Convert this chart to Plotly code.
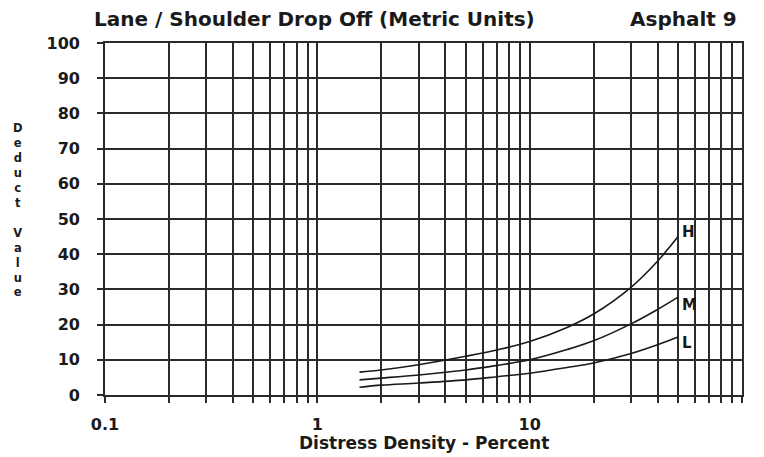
"""Deduct value curves: lane / shoulder drop off (asphalt 9)."""
import math

import plotly.graph_objects as go

DENSITY = [1.58, 2, 3, 5, 7, 10, 15, 20, 30, 40, 50]
HIGH = [6.5, 7.1, 8.6, 11.0, 12.8, 15.2, 19.2, 23.0, 30.6, 38.0, 45.0]
MEDIUM = [4.3, 4.8, 5.7, 7.1, 8.4, 10.0, 12.9, 15.4, 20.2, 24.3, 27.8]
LOW = [2.2, 2.8, 3.4, 4.3, 5.2, 6.2, 7.8, 9.1, 11.8, 14.3, 16.5]
SEVERITY = ["H", "M", "L"]

X_TICKS = [0.1, 1, 10, 100]
X_TICK_TEXT = ["0.1", "1", "10", "100"]
X_MINOR = [m * d for d in (0.1, 1, 10) for m in range(2, 10)]

FONT = "DejaVu Sans, Verdana, sans-serif"
INK = "#1a1a1a"
GRID = "#2b2b2b"

# label offsets off the curve ends (px): H sits above, M and L below
LABEL_SHIFT = {"H": 5, "M": -8, "L": -6}

fig = go.Figure()
for name, ys in zip(SEVERITY, (HIGH, MEDIUM, LOW)):
    fig.add_scatter(
        x=DENSITY, y=ys, mode="lines", name=name,
        line=dict(color=INK, width=1.6, shape="spline", smoothing=1.0),
        showlegend=False,
    )
    # annotation x on a log axis is given in log10 units
    fig.add_annotation(
        x=math.log10(DENSITY[-1]), y=ys[-1], xref="x", yref="y",
        text=f"<b>{name}</b>", showarrow=False, xanchor="left", xshift=2,
        yshift=LABEL_SHIFT[name], font=dict(family=FONT, size=15, color=INK),
    )

fig.update_xaxes(
    type="log", range=[-1, 2],
    tickvals=X_TICKS, ticktext=X_TICK_TEXT,
    showgrid=True, gridcolor=GRID, gridwidth=1.7,
    ticks="outside", ticklen=6, tickcolor=GRID, tickwidth=1.7,
    minor=dict(tickvals=X_MINOR, showgrid=True, gridcolor=GRID, gridwidth=1.7,
               ticks="outside", ticklen=6, tickcolor=GRID, tickwidth=1.7),
    showline=True, linecolor=GRID, linewidth=1.7, mirror=True,
    zeroline=False,
    tickfont=dict(family=FONT, size=16, color=INK, weight="bold"),
    ticklabelstandoff=8,
)
fig.update_yaxes(
    range=[0, 100], dtick=10,
    showgrid=True, gridcolor=GRID, gridwidth=1.7,
    ticks="outside", ticklen=6, tickcolor=GRID, tickwidth=1.7,
    showline=True, linecolor=GRID, linewidth=1.7, mirror=True,
    zeroline=False,
    tickfont=dict(family=FONT, size=16, color=INK, weight="bold"),
    ticklabelstandoff=14,
)

# stacked vertical y-axis title
fig.add_annotation(
    x=0, y=0.5, xref="paper", yref="paper", xanchor="center", yanchor="middle",
    xshift=-87, yshift=9,
    text="<br>".join("<b>" + c + "</b>" if c != " " else "" for c in "Deduct Value"),
    showarrow=False, font=dict(family=FONT, size=11.5, color=INK),
)
fig.add_annotation(
    x=0.5, y=0, xref="paper", yref="paper", xanchor="center", yanchor="middle",
    yshift=-48, text="<b>Distress Density - Percent</b>", showarrow=False,
    font=dict(family=FONT, size=17, color=INK),
)
fig.add_annotation(
    x=0, y=1.0, xref="paper", yref="paper", xanchor="left", yanchor="middle",
    xshift=-13, yshift=24, text="<b>Lane / Shoulder Drop Off (Metric Units)</b>",
    showarrow=False, font=dict(family=FONT, size=20, color=INK),
)
fig.add_annotation(
    x=1.0, y=1.0, xref="paper", yref="paper", xanchor="right", yanchor="middle",
    xshift=-3, yshift=24, text="<b>Asphalt 9</b>", showarrow=False,
    font=dict(family=FONT, size=20, color=INK),
)

# page body adds an 8px offset, so the figure is shrunk to fit the window
fig.update_layout(
    width=748, height=449,
    margin=dict(l=96.5, r=12, t=35, b=62),
    paper_bgcolor="white", plot_bgcolor="white",
)
fig.write_html("out.html")
